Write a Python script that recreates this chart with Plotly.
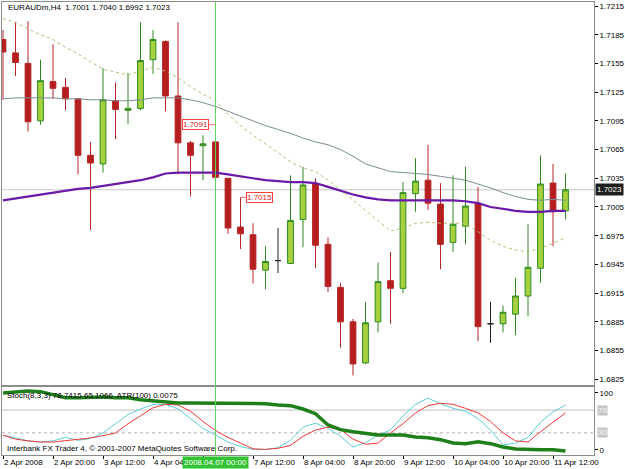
import plotly.graph_objects as go

W, H = 625, 469
SYMBOL = "EURAUDm,H4"
FONT = "Liberation Sans"

bar_idx = list(range(46))
opens = [1.7180, 1.7166, 1.7155, 1.7095, 1.7136, 1.7130, 1.7118, 1.7059, 1.7050, 1.7116,
         1.7106, 1.7108, 1.7159, 1.7178, 1.7121, 1.7072, 1.7069, 1.7073, 1.7035, 1.6984,
         1.6976, 1.6939, 1.6949, 1.6946, 1.6992, 1.7029, 1.6966, 1.6921, 1.6885, 1.6842,
         1.6885, 1.6928, 1.6920, 1.7019, 1.7033, 1.7008, 1.6968, 1.6985, 1.7009, 1.6883,
         1.6883, 1.6893, 1.6912, 1.6941, 1.7030, 1.7001]
highs = [1.7190, 1.7198, 1.7199, 1.7159, 1.7175, 1.7140, 1.7119, 1.7073, 1.7150, 1.7135,
         1.7145, 1.7198, 1.7190, 1.7179, 1.7198, 1.7074, 1.7080, 1.7091, 1.7035, 1.7015,
         1.6988, 1.6964, 1.6983, 1.7038, 1.7047, 1.7035, 1.6973, 1.6926, 1.6888, 1.6906,
         1.6947, 1.6958, 1.7031, 1.7056, 1.7070, 1.7030, 1.7038, 1.7047, 1.7026, 1.6906,
         1.6902, 1.6931, 1.6987, 1.7059, 1.7050, 1.7040]
lows = [1.7117, 1.7142, 1.7084, 1.7091, 1.7118, 1.7106, 1.7039, 1.6981, 1.7041, 1.7076,
        1.7092, 1.7106, 1.7144, 1.7105, 1.7039, 1.7016, 1.7033, 1.7019, 1.6977, 1.6961,
        1.6925, 1.6919, 1.6936, 1.6946, 1.6963, 1.6941, 1.6916, 1.6858, 1.6829, 1.6841,
        1.6874, 1.6883, 1.6915, 1.7000, 1.7002, 1.6940, 1.6958, 1.6966, 1.6865, 1.6863,
        1.6874, 1.6871, 1.6891, 1.6926, 1.6964, 1.6992]
closes = [1.7167, 1.7156, 1.7094, 1.7137, 1.7129, 1.7118, 1.7059, 1.7051, 1.7117, 1.7107,
          1.7108, 1.7158, 1.7180, 1.7121, 1.7072, 1.7059, 1.7071, 1.7036, 1.6983, 1.6977,
          1.6940, 1.6948, 1.6949, 1.6991, 1.7028, 1.6965, 1.6922, 1.6885, 1.6841, 1.6884,
          1.6927, 1.6920, 1.7020, 1.7032, 1.7009, 1.6966, 1.6987, 1.7006, 1.6880, 1.6883,
          1.6895, 1.6912, 1.6942, 1.7029, 1.7000, 1.7023]

ma_slow = [1.7118, 1.7119, 1.7119, 1.7119, 1.7119, 1.7118, 1.7118, 1.7117, 1.7117, 1.7116,
           1.7116, 1.7117, 1.7119, 1.7119, 1.7119, 1.7117, 1.7114, 1.7110, 1.7105, 1.7100,
           1.7095, 1.7090, 1.7086, 1.7082, 1.7077, 1.7073, 1.7070, 1.7065, 1.7058, 1.7050,
           1.7046, 1.7042, 1.7041, 1.7040, 1.7039, 1.7037, 1.7035, 1.7033, 1.7029, 1.7025,
           1.7020, 1.7016, 1.7013, 1.7012, 1.7013, 1.7012]
ma_mid = [1.7012, 1.7014, 1.7016, 1.7018, 1.7020, 1.7022, 1.7024, 1.7025, 1.7027, 1.7029,
          1.7031, 1.7033, 1.7036, 1.7040, 1.7041, 1.7041, 1.7041, 1.7041, 1.7039, 1.7037,
          1.7035, 1.7033, 1.7032, 1.7031, 1.7031, 1.7030, 1.7026, 1.7022, 1.7018, 1.7015,
          1.7013, 1.7012, 1.7012, 1.7012, 1.7012, 1.7012, 1.7012, 1.7011, 1.7009, 1.7005,
          1.7003, 1.7001, 1.7000, 1.7000, 1.7001, 1.7001]
ma_fast = [1.7202, 1.7198, 1.7191, 1.7185, 1.7180, 1.7172, 1.7165, 1.7157, 1.7149, 1.7146,
           1.7143, 1.7147, 1.7151, 1.7147, 1.7140, 1.7131, 1.7123, 1.7116, 1.7102, 1.7090,
           1.7080, 1.7071, 1.7062, 1.7052, 1.7046, 1.7042, 1.7033, 1.7023, 1.7012, 1.7002,
           1.6991, 1.6980, 1.6983, 1.6988, 1.6989, 1.6988, 1.6988, 1.6988, 1.6979, 1.6970,
           1.6964, 1.6960, 1.6958, 1.6962, 1.6967, 1.6973]

stoch_main = [26, 21, 16, 14, 16, 22, 17, 20, 30, 46, 62, 72, 80, 80, 72, 55, 38, 26, 14, 6,
              1, 1, 4, 17, 40, 47, 38, 24, 5, 13, 26, 35, 60, 80, 91, 81, 73, 68, 55, 35,
              9, 12, 22, 49, 67, 78.7415]
stoch_signal = [26, 19, 16, 14, 14, 16, 19, 21, 25, 30, 46, 60, 74, 80, 79, 68, 50, 34, 22, 12,
                2, 1, 3, 8, 24, 35, 40, 36, 19, 10, 12, 30, 46, 65, 78, 82, 80, 73, 65, 50,
                30, 16, 14, 32, 49, 65.1066]
atr100 = [0.00837, 0.00839, 0.00840, 0.00839, 0.00834, 0.00830, 0.00830, 0.00831, 0.00831, 0.00830,
          0.00830, 0.00827, 0.00825, 0.00824, 0.00822, 0.00822, 0.00822, 0.00822, 0.00822, 0.00822,
          0.00822, 0.00821, 0.00819, 0.00818, 0.00813, 0.00806, 0.00789, 0.00782, 0.00779, 0.00776,
          0.00774, 0.00774, 0.00774, 0.00771, 0.00770, 0.00767, 0.00762, 0.00761, 0.00764, 0.00761,
          0.00756, 0.00753, 0.00752, 0.00752, 0.00752, 0.00750]

time_tick_idx = [0, 4, 8, 12, 16, 20, 24, 28, 32, 36, 40, 44]
time_label_idx = [0, 4, 8, 12, 20, 24, 28, 32, 36, 40, 44]
time_labels = ["2 Apr 2008", "2 Apr 20:00", "3 Apr 12:00", "4 Apr 04:00",
               "7 Apr 12:00", "8 Apr 04:00", "8 Apr 20:00", "9 Apr 12:00", "10 Apr 04:00",
               "10 Apr 20:00", "11 Apr 12:00"]
price_ticks = [1.6825, 1.6855, 1.6885, 1.6915, 1.6945, 1.6975, 1.7005, 1.7035, 1.7065,
               1.7095, 1.7125, 1.7155, 1.7185, 1.7215]
stoch_levels = [30, 70]
cross_idx = 17
cross_label = "2008.04.07 00:00"
marked = [(17, "left"), (19, "right")]

def py(p):
    return 1 - p / H

fig = go.Figure()

def sel(cond):
    ids = [i for i in bar_idx if cond(i)]
    return dict(x=ids, open=[opens[i] for i in ids], high=[highs[i] for i in ids],
                low=[lows[i] for i in ids], close=[closes[i] for i in ids])

up = sel(lambda i: closes[i] > opens[i])
dn = sel(lambda i: closes[i] < opens[i])
dj = sel(lambda i: closes[i] == opens[i])

for d, fill, line in [(up, "#A6D13E", "#2E8A1E"), (dn, "#B41E1E", "#B82424"), (dj, "#222222", "#222222")]:
    fig.add_trace(go.Candlestick(
        **d, xaxis="x", yaxis="y", whiskerwidth=0,
        increasing=dict(fillcolor=fill, line=dict(color=line, width=1)),
        decreasing=dict(fillcolor=fill, line=dict(color=line, width=1)),
        hoverinfo="skip", showlegend=False))

fig.add_trace(go.Scatter(x=bar_idx, y=ma_slow, mode="lines", line=dict(color="#7A8E96", width=1),
                         xaxis="x", yaxis="y", hoverinfo="skip", showlegend=False))
fig.add_trace(go.Scatter(x=bar_idx, y=ma_fast, mode="lines", line=dict(color="#B4BC74", width=1, dash="dot"),
                         xaxis="x", yaxis="y", hoverinfo="skip", showlegend=False))
fig.add_trace(go.Scatter(x=bar_idx, y=ma_mid, mode="lines", line=dict(color="#6A1AA8", width=2.2),
                         xaxis="x", yaxis="y", hoverinfo="skip", showlegend=False))

fig.add_trace(go.Scatter(x=bar_idx, y=atr100, mode="lines", line=dict(color="#1F7F1A", width=3.5),
                         xaxis="x2", yaxis="y3", hoverinfo="skip", showlegend=False))
fig.add_trace(go.Scatter(x=bar_idx, y=stoch_main, mode="lines", line=dict(color="#5CCFD6", width=1),
                         xaxis="x2", yaxis="y2", hoverinfo="skip", showlegend=False))
fig.add_trace(go.Scatter(x=bar_idx, y=stoch_signal, mode="lines", line=dict(color="#F03A3A", width=1),
                         xaxis="x2", yaxis="y2", hoverinfo="skip", showlegend=False))

xdom = [2 / W, 594 / W]
axfont = dict(family=FONT, size=8, color="#000000")
fig.update_layout(
    width=W, height=H, margin=dict(l=0, r=0, t=0, b=0),
    paper_bgcolor="#FFFFFF", plot_bgcolor="#FFFFFF",
    boxgap=0.34, hovermode=False, showlegend=False,
    font=dict(family=FONT, size=8, color="#000000"),
    xaxis=dict(domain=xdom, range=[-0.08, 47.28], anchor="y", showticklabels=False, showgrid=False,
               zeroline=False, showline=True, mirror=True, linecolor="#8C8C8C", linewidth=1,
               ticks="", rangeslider=dict(visible=False), fixedrange=True),
    xaxis2=dict(domain=xdom, matches="x", anchor="y2", showticklabels=False, showgrid=False,
                zeroline=False, showline=True, mirror=True, linecolor="#8C8C8C", linewidth=1,
                ticks="outside", tickvals=time_tick_idx, ticklen=3, tickcolor="#000000",
                rangeslider=dict(visible=False)),
    yaxis=dict(domain=[py(385), py(2)], range=[1.68190, 1.72192], anchor="x", side="right",
               tickvals=price_ticks, ticktext=[f"{v:.4f}" for v in price_ticks],
               ticks="outside", ticklen=3, tickcolor="#000000", tickfont=axfont,
               showgrid=False, zeroline=False, showline=True, mirror=True, linecolor="#8C8C8C"),
    yaxis2=dict(domain=[py(455), py(387)], range=[-8.8, 110.5], anchor="x2", side="right",
                tickvals=[0, 100], ticktext=["0", "100"], ticks="outside", ticklen=3,
                tickcolor="#000000", tickfont=axfont, showgrid=False, zeroline=False,
                showline=True, mirror=True, linecolor="#8C8C8C"),
    yaxis3=dict(overlaying="y2", range=[0.00744, 0.00846], visible=False, anchor="x2"),
)

shapes = []
shapes.append(dict(type="line", xref="x domain", x0=0, x1=1, yref="y", y0=closes[-1], y1=closes[-1],
                   line=dict(color="#C8C8C8", width=1), layer="below"))
shapes.append(dict(type="line", xref="x2 domain", x0=0, x1=1, yref="y2", y0=stoch_levels[1], y1=stoch_levels[1],
                   line=dict(color="#C0C0C0", width=1), layer="below"))
shapes.append(dict(type="line", xref="x2 domain", x0=0, x1=1, yref="y2", y0=stoch_levels[0], y1=stoch_levels[0],
                   line=dict(color="#B0B0B0", width=1, dash="dot"), layer="below"))
shapes.append(dict(type="line", xref="x", x0=cross_idx, x1=cross_idx, yref="paper", y0=py(455), y1=py(2),
                   line=dict(color="#5CD65C", width=1)))
fig.update_layout(shapes=shapes)

ann = []
ann.append(dict(xref="paper", yref="paper", x=6 / W, y=py(8), xanchor="left", yanchor="middle",
                text=f"{SYMBOL}  {opens[-1]:.4f} {highs[-1]:.4f} {lows[-1]:.4f} {closes[-1]:.4f}",
                showarrow=False, font=dict(family=FONT, size=8, color="#000000")))
ann.append(dict(xref="paper", yref="paper", x=5 / W, y=py(395), xanchor="left", yanchor="middle",
                text=f"Stoch(8,3,3) {stoch_main[-1]:.4f} {stoch_signal[-1]:.4f}  ATR(100) {atr100[-1]:.4f}",
                showarrow=False, font=dict(family=FONT, size=8, color="#000000")))
ann.append(dict(xref="paper", yref="paper", x=5 / W, y=py(448), xanchor="left", yanchor="middle",
                text="Interbank FX Trader 4, © 2001-2007 MetaQuotes Software Corp.",
                showarrow=False, font=dict(family=FONT, size=8, color="#000000")))
for i, t in zip(time_label_idx, time_labels):
    ann.append(dict(xref="x2", yref="paper", x=i, y=py(462), xanchor="left", yanchor="middle",
                    xshift=-1, text=t, showarrow=False, font=dict(family=FONT, size=8, color="#000000")))
ann.append(dict(xref="x2", yref="paper", x=cross_idx, y=py(462), xanchor="center", yanchor="middle",
                text=cross_label, showarrow=False, bgcolor="#33C433", borderpad=1,
                font=dict(family=FONT, size=8, color="#FFFFFF")))
ann.append(dict(xref="paper", yref="y", x=595 / W, y=closes[-1], xanchor="left", yanchor="middle",
                text=f"{closes[-1]:.4f}", showarrow=False, bgcolor="#1E1E1E", borderpad=1,
                font=dict(family=FONT, size=8, color="#FFFFFF")))
for lv in stoch_levels:
    ann.append(dict(xref="paper", yref="y2", x=597 / W, y=lv, xanchor="left", yanchor="middle",
                    text=str(lv), showarrow=False, bgcolor="#C4C4C4", borderpad=0,
                    font=dict(family=FONT, size=8, color="#FFFFFF")))
for i, side in marked:
    ann.append(dict(xref="x", yref="y", x=i, y=highs[i], text=f"{highs[i]:.4f}",
                    showarrow=True, arrowhead=0, arrowwidth=1, arrowcolor="#FF7070",
                    ax=-20 if side == "left" else 19, ay=0, standoff=0,
                    bgcolor="#FFFFFF", bordercolor="#FF4040", borderwidth=1, borderpad=0,
                    font=dict(family=FONT, size=8, color="#E02020")))
fig.update_layout(annotations=ann)

fig.write_html("out.html")
